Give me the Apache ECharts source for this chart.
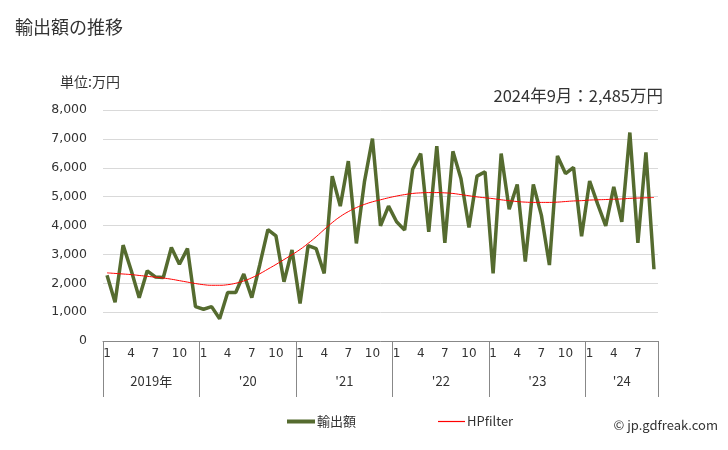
<!DOCTYPE html>
<html><head><meta charset="utf-8">
<script src="https://cdn.jsdelivr.net/npm/echarts@6/dist/echarts.min.js"></script>
<style>html,body{margin:0;padding:0;background:#fff}#c{width:728px;height:450px}</style>
</head><body><div id="c"></div>
<script>
const months = [];
const years = [2019, 2020, 2021, 2022, 2023, 2024];
const monthsPerYear = [12, 12, 12, 12, 12, 9];
years.forEach((y, k) => { for (let m = 1; m <= monthsPerYear[k]; m++) months.push(y + '-' + m); });
const yearLabels = ['2019年', "'20", "'21", "'22", "'23", "'24"];
const exportValues = [
  2280, 1340, 3320, 2450, 1500, 2430, 2220, 2200, 3240, 2660, 3200, 1190,
  1100, 1190, 770, 1680, 1680, 2320, 1500, 2650, 3860, 3640, 2050, 3150,
  1300, 3300, 3200, 2340, 5710, 4670, 6230, 3380, 5510, 7010, 3990, 4670,
  4130, 3840, 5950, 6490, 3780, 6750, 3400, 6570, 5630, 3930, 5710, 5860,
  2340, 6490, 4560, 5420, 2750, 5420, 4360, 2630, 6410, 5800, 6010, 3630,
  5540, 4740, 3990, 5340, 4130, 7220, 3400, 6530, 2485
];
const hpValues = [
  2360, 2340, 2320, 2300, 2270, 2240, 2210, 2180, 2140, 2090, 2040, 1990,
  1950, 1930, 1930, 1950, 2000, 2080, 2190, 2330, 2490, 2650, 2820, 2990,
  3170, 3380, 3610, 3860, 4100, 4310, 4480, 4620, 4730, 4820, 4890, 4960,
  5020, 5070, 5110, 5130, 5140, 5140, 5130, 5110, 5070, 5030, 4990, 4960,
  4930, 4890, 4860, 4830, 4810, 4800, 4800, 4800, 4810, 4830, 4850, 4860,
  4880, 4890, 4900, 4910, 4920, 4940, 4950, 4960, 4970
];
const yTicks = [0, 1000, 2000, 3000, 4000, 5000, 6000, 7000, 8000];

const FONT = '"Noto Sans CJK JP", "DejaVu Sans", sans-serif';
const NUMFONT = '"DejaVu Sans", "Noto Sans CJK JP", sans-serif';

const yearStart = [];
let acc = 0;
monthsPerYear.forEach(n => { yearStart.push(acc); acc += n; });
const yearLabelIdx = {};
monthsPerYear.forEach((n, k) => { yearLabelIdx[yearStart[k] + Math.floor(n / 2)] = k; });

const chart = echarts.init(document.getElementById('c'));
chart.setOption({
  animation: false,
  textStyle: { fontFamily: FONT },
  title: [
    { text: '輸出額の推移', left: 10, top: 13, textStyle: { fontSize: 18, fontWeight: 'normal', color: '#333', fontFamily: FONT } },
    { text: '単位:万円', left: 55, top: 70, textStyle: { fontSize: 14, fontWeight: 'normal', color: '#333', fontFamily: FONT } },
    { text: '2024年9月：2,485万円', right: 60, top: 82, textStyle: { fontSize: 16.5, fontWeight: 'normal', color: '#333', fontFamily: FONT } },
    { text: '© jp.gdfreak.com', right: 5, top: 414, textStyle: { fontSize: 13, fontWeight: 'normal', color: '#333', fontFamily: FONT } }
  ],
  legend: [
    { data: [{ name: '輸出額', icon: 'rect', itemStyle: { color: '#556b2f' } }], left: 282, top: 410, itemWidth: 28, itemHeight: 4, itemGap: 2,
      textStyle: { fontSize: 13, color: '#333', fontFamily: FONT, padding: [0, 0, 0, -3] } },
    { data: [{ name: 'HPfilter', icon: 'rect', itemStyle: { color: '#ff0000' } }], left: 433, top: 410, itemWidth: 27, itemHeight: 1.2,
      textStyle: { fontSize: 13, color: '#333', fontFamily: FONT, padding: [0, 0, 0, -3] } }
  ],
  grid: { left: 103, right: 70, top: 110, bottom: 109, containLabel: false },
  xAxis: [
    {
      type: 'category', data: months, boundaryGap: true, position: 'bottom',
      axisLine: { show: true, lineStyle: { color: '#888', width: 1 } },
      axisTick: { show: false },
      axisLabel: {
        interval: 0, margin: 7, fontSize: 12, color: '#333', fontFamily: NUMFONT,
        formatter: v => { const m = +v.split('-')[1]; return (m % 3 === 1) ? String(m) : ''; }
      }
    },
    {
      type: 'category', data: months, boundaryGap: true, position: 'bottom',
      axisLine: { show: false },
      axisTick: { show: true, length: 56, lineStyle: { color: '#888' },
        interval: (i) => yearStart.indexOf(i) >= 0 },
      axisLabel: {
        interval: 0, margin: 34, fontSize: 12, color: '#333', fontFamily: NUMFONT,
        formatter: (v, i) => {
          const k = yearLabelIdx[i];
          if (k === undefined) return '';
          return monthsPerYear[k] % 2 === 0 ? '{a|' + yearLabels[k] + '}' : '{b|' + yearLabels[k] + '}';
        },
        rich: {
          a: { fontSize: 13, color: '#333', fontFamily: FONT, padding: [0, 8, 0, 0] },
          b: { fontSize: 13, color: '#333', fontFamily: FONT }
        }
      }
    }
  ],
  yAxis: {
    type: 'value', min: yTicks[0], max: yTicks[yTicks.length - 1], interval: 1000,
    axisLine: { show: false }, axisTick: { show: false },
    splitLine: { lineStyle: { color: '#d9d9d9', width: 1 } },
    axisLabel: { margin: 16, fontSize: 12.5, color: '#333', fontFamily: NUMFONT,
      formatter: v => v.toLocaleString('en-US') }
  },
  series: [
    { name: '輸出額', type: 'line', data: exportValues, xAxisIndex: 0, symbol: 'none',
      lineStyle: { color: '#556b2f', width: 3.5 }, itemStyle: { color: '#556b2f' }, z: 2 },
    { name: 'HPfilter', type: 'line', data: hpValues, xAxisIndex: 0, symbol: 'none', smooth: true,
      lineStyle: { color: '#ff0000', width: 1 }, itemStyle: { color: '#ff0000' }, z: 3 }
  ]
});
</script></body></html>
